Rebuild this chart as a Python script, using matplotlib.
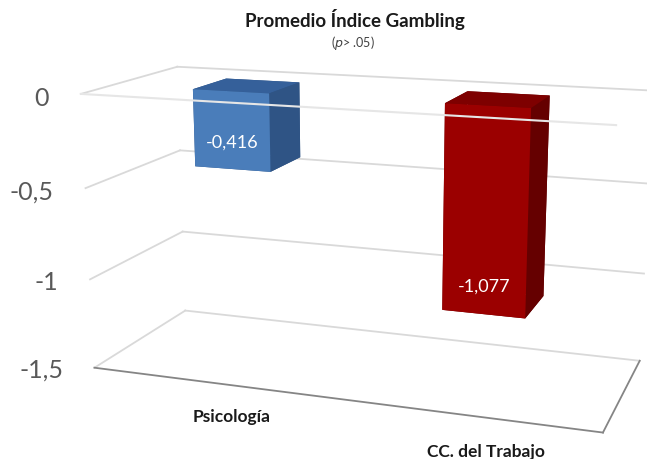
import matplotlib
matplotlib.use("Agg")
import matplotlib.pyplot as plt
import numpy as np

categories = ["Psicología", "CC. del Trabajo"]
values = [-0.416, -1.077]
value_labels = ["-0,416", "-1,077"]
yticks = [0, -0.5, -1, -1.5]
ytick_labels = ["0", "-0,5", "-1", "-1,5"]
title = "Promedio Índice Gambling"
subtitle = r"($\mathit{p}$> .05)"

front_colors = ["#4A7DBA", "#9B0000"]
side_colors = ["#2F5485", "#650000"]
top_colors = ["#35609A", "#7E0000"]

W, H = 647, 460
plt.rcParams['font.family'] = ["Lato", "DejaVu Sans"]

fig = plt.figure(figsize=(W / 100, H / 100), dpi=100)
ax = fig.add_axes([0.0886, -0.1829, 0.9380, 1.3193], projection='3d',
                  computed_zorder=False)
ax.set_proj_type('persp', focal_length=0.4395)
ax.view_init(elev=14.267, azim=-70.572)
ax.set_box_aspect((1, 0.3959, 0.5399), zoom=1)
ax.set_axis_off()
ncat = len(categories)
zmin, zmax = min(yticks), max(yticks)
ax.set_xlim(0, ncat)
ax.set_ylim(0, 1)
ax.set_zlim(zmin, zmax)

# bar geometry (fraction of a category / of the depth)
bw, by, bd = 0.3153, 0.3088, 0.3784

grid_c = "#D9D9D9"
for z in yticks:
    ax.plot([0, 0], [0, 1], [z, z], color=grid_c, lw=1.3, zorder=1, clip_on=False)
    ax.plot([0, ncat], [1, 1], [z, z], color=grid_c, lw=1.3, zorder=1, clip_on=False)

for i, v in enumerate(values):
    x0 = i + 0.5 - bw / 2
    cols = [side_colors[i], top_colors[i], front_colors[i],
            side_colors[i], side_colors[i], side_colors[i]]
    pc = ax.bar3d(x0, by, v, bw, bd, -v, color=cols, shade=False, zorder=2)
    pc.set_clip_on(False)
    ax.text(i + 0.5, by, v + 0.15, value_labels[i], color="white",
            ha="center", va="center", fontsize=13, zorder=5)

# zero plane front edge (drawn over the bars) and floor outline
ax.plot([0, ncat], [0, 0], [zmax, zmax], color="#E6E6E6", lw=1.5, zorder=4, clip_on=False)
ax.plot([0, ncat], [0, 0], [zmin, zmin], color="#858585", lw=1.3, zorder=4, clip_on=False)
ax.plot([ncat, ncat], [0, 1], [zmin, zmin], color="#858585", lw=1.3, zorder=4, clip_on=False)

for z, lab in zip(yticks, ytick_labels):
    ax.text(-0.14, 0, z - 0.03, lab, ha="right", va="center", fontsize=18,
            color="#595959", zorder=5)

for i, c in enumerate(categories):
    ax.text(i + 0.585, 0, zmin - 0.175, c, ha="center", va="center", fontsize=12.5,
            fontweight="bold", color="#1a1a1a", zorder=5)

fig.text(355 / W, 1 - 19 / H, title, ha="center", va="center", fontsize=13.5,
         fontweight="bold", color="#1a1a1a")
fig.text(353 / W, 1 - 43 / H, subtitle, ha="center", va="center",
         fontsize=9, color="#404040")

fig.savefig("out.png", dpi=100)
